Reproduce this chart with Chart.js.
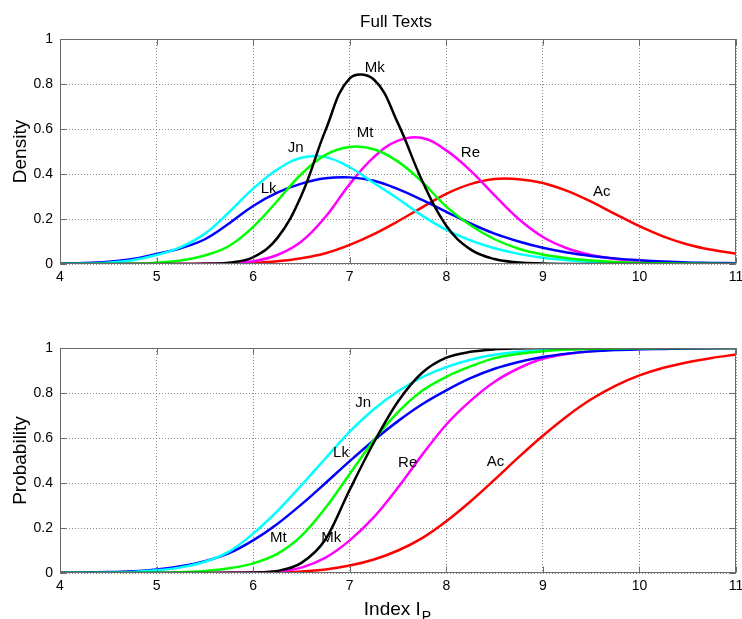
<!DOCTYPE html>
<html>
<head>
<meta charset="utf-8">
<script src="https://cdn.jsdelivr.net/npm/chart.js@4.4.1/dist/chart.umd.min.js"></script>
<style>
  html, body { margin: 0; padding: 0; background: #fff; }
  #wrap { position: relative; width: 742px; height: 619px; overflow: hidden; }
  canvas { position: absolute; left: 0; }
  #densityChart { top: 0; }
  #probChart { top: 300px; }
</style>
</head>
<body>
<div id="wrap">
  <canvas id="densityChart" width="742" height="300"></canvas>
  <canvas id="probChart" width="742" height="319"></canvas>
</div>
<script>
// Index I_P values (shared x for every curve)
const indexValues = [4, 4.25, 4.5, 4.75, 5, 5.25, 5.5, 5.75, 6, 6.25, 6.5, 6.75, 7, 7.25, 7.5, 7.75,
  8, 8.25, 8.5, 8.75, 9, 9.25, 9.5, 9.75, 10, 10.25, 10.5, 10.75, 11];
const textNames = ["Mk", "Mt", "Jn", "Lk", "Re", "Ac"];
const xTicks = [4, 5, 6, 7, 8, 9, 10, 11];
const yTicks = [0, 0.2, 0.4, 0.6, 0.8, 1];

// density curves (top panel)
const densityMk = [0, 0, 0, 0, 0, 0, 0.001, 0.006, 0.03, 0.115, 0.305, 0.595, 0.825, 0.82, 0.625, 0.37,
  0.17, 0.065, 0.022, 0.007, 0.002, 0, 0, 0, 0, 0, 0, 0, 0];
const densityMt = [0, 0, 0, 0.001, 0.006, 0.016, 0.038, 0.08, 0.165, 0.28, 0.4, 0.485, 0.52, 0.51, 0.455, 0.365,
  0.255, 0.172, 0.11, 0.068, 0.042, 0.026, 0.016, 0.009, 0.005, 0.003, 0.002, 0.001, 0];
const densityJn = [0.001, 0.002, 0.006, 0.017, 0.04, 0.075, 0.135, 0.23, 0.335, 0.42, 0.472, 0.475, 0.43, 0.36, 0.29, 0.215,
  0.152, 0.105, 0.07, 0.045, 0.028, 0.017, 0.01, 0.006, 0.003, 0.002, 0.001, 0, 0];
const densityLk = [0.002, 0.004, 0.01, 0.022, 0.045, 0.07, 0.11, 0.18, 0.258, 0.317, 0.357, 0.381, 0.385, 0.37, 0.333, 0.285,
  0.232, 0.18, 0.135, 0.1, 0.072, 0.051, 0.036, 0.025, 0.017, 0.011, 0.007, 0.005, 0.003];
const densityRe = [0, 0, 0, 0, 0, 0, 0.001, 0.003, 0.012, 0.04, 0.1, 0.21, 0.355, 0.475, 0.548, 0.56,
  0.505, 0.415, 0.305, 0.2, 0.12, 0.07, 0.04, 0.022, 0.012, 0.006, 0.003, 0.001, 0];
const densityAc = [0, 0, 0, 0, 0, 0, 0.001, 0.002, 0.005, 0.012, 0.026, 0.048, 0.085, 0.133, 0.19, 0.252,
  0.312, 0.355, 0.378, 0.377, 0.36, 0.325, 0.277, 0.222, 0.168, 0.122, 0.087, 0.063, 0.046];

// cumulative probability curves (bottom panel)
const probMk = [0, 0, 0, 0, 0, 0, 0, 0.001, 0.002, 0.009, 0.045, 0.15, 0.37, 0.58, 0.762, 0.89,
  0.957, 0.983, 0.994, 0.998, 1, 1, 1, 1, 1, 1, 1, 1, 1];
const probMt = [0, 0, 0, 0, 0.001, 0.003, 0.009, 0.021, 0.043, 0.085, 0.165, 0.29, 0.44, 0.59, 0.715, 0.81,
  0.872, 0.918, 0.955, 0.974, 0.986, 0.993, 0.996, 0.998, 0.999, 1, 1, 1, 1];
const probJn = [0.0005, 0.001, 0.002, 0.005, 0.012, 0.025, 0.05, 0.095, 0.175, 0.275, 0.39, 0.51, 0.628, 0.728, 0.808, 0.87,
  0.915, 0.948, 0.97, 0.983, 0.99, 0.994, 0.997, 0.998, 0.999, 1, 1, 1, 1];
const probLk = [0.001, 0.002, 0.004, 0.008, 0.016, 0.03, 0.052, 0.088, 0.145, 0.218, 0.305, 0.4, 0.497, 0.59, 0.675, 0.75,
  0.812, 0.866, 0.908, 0.938, 0.96, 0.975, 0.985, 0.991, 0.994, 0.996, 0.998, 0.999, 1];
const probRe = [0, 0, 0, 0, 0, 0, 0, 0.001, 0.002, 0.007, 0.024, 0.068, 0.145, 0.248, 0.38, 0.525,
  0.66, 0.765, 0.85, 0.91, 0.952, 0.973, 0.986, 0.993, 0.996, 0.998, 0.999, 1, 1];
const probAc = [0, 0, 0, 0, 0, 0, 0, 0, 0.001, 0.003, 0.007, 0.016, 0.033, 0.06, 0.1, 0.155,
  0.23, 0.318, 0.415, 0.515, 0.61, 0.697, 0.772, 0.832, 0.878, 0.912, 0.937, 0.956, 0.971];

// where the curve names sit (data coordinates)
const densityLabels = [
  { text: "Mk", x: 7.26, y: 0.873 }, { text: "Mt", x: 7.16, y: 0.584 },
  { text: "Jn", x: 6.44, y: 0.517 }, { text: "Lk", x: 6.16, y: 0.332 },
  { text: "Re", x: 8.25, y: 0.495 }, { text: "Ac", x: 9.61, y: 0.321 }
];
const probLabels = [
  { text: "Jn", x: 7.14, y: 0.757 }, { text: "Lk", x: 6.91, y: 0.532 },
  { text: "Re", x: 7.6, y: 0.488 }, { text: "Ac", x: 8.51, y: 0.494 },
  { text: "Mt", x: 6.26, y: 0.154 }, { text: "Mk", x: 6.81, y: 0.154 }
];

const lineColors = { Mk: "#000000", Mt: "#00ff00", Jn: "#00ffff", Lk: "#0000ff", Re: "#ff00ff", Ac: "#ff0000" };
const FONT = '"Liberation Sans", Arial, Helvetica, sans-serif';

// densities get a bezier so the peaks stay round, the cumulative curves stay monotone
function buildDatasets(series, monotone) {
  return textNames.map(name => ({
    label: name,
    data: indexValues.map((x, i) => ({ x: x, y: series[name][i] })),
    borderColor: lineColors[name],
    borderWidth: 2.5,
    pointRadius: 0,
    tension: 0.4,
    cubicInterpolationMode: monotone ? "monotone" : "default",
    fill: false
  }));
}

// MATLAB-like box, inward ticks, text labels and axis titles
const matlabAxes = {
  id: "matlabAxes",
  afterDatasetsDraw(chart, args, opts) {
    const { ctx, chartArea: a } = chart;
    const xs = chart.scales.x, ys = chart.scales.y;
    const L = Math.round(a.left) + 0.5, R = Math.round(a.right) - 0.5;
    const T = Math.round(a.top) + 0.5, B = Math.round(a.bottom) - 0.5;
    ctx.save();
    ctx.setLineDash([]);
    ctx.strokeStyle = "#6a6a6a";
    ctx.lineWidth = 1;
    ctx.strokeRect(L, T, R - L, B - T);
    ctx.beginPath();
    xs.ticks.forEach(t => {
      const p = Math.round(xs.getPixelForValue(t.value)) + 0.5;
      ctx.moveTo(p, B); ctx.lineTo(p, B - 6);
      ctx.moveTo(p, T); ctx.lineTo(p, T + 6);
    });
    ys.ticks.forEach(t => {
      const p = Math.round(ys.getPixelForValue(t.value)) + 0.5;
      ctx.moveTo(L, p); ctx.lineTo(L + 6, p);
      ctx.moveTo(R, p); ctx.lineTo(R - 6, p);
    });
    ctx.stroke();

    ctx.fillStyle = "#000";
    ctx.font = "15px " + FONT;
    ctx.textAlign = "center";
    ctx.textBaseline = "middle";
    (opts.labels || []).forEach(l => {
      ctx.fillText(l.text, xs.getPixelForValue(l.x), ys.getPixelForValue(l.y));
    });

    if (opts.title) {
      ctx.font = "17px " + FONT;
      ctx.fillText(opts.title, 396, 22);
    }

    // rotated y title
    ctx.save();
    ctx.translate(21, (a.top + a.bottom) / 2);
    ctx.rotate(-Math.PI / 2);
    ctx.font = "19px " + FONT;
    ctx.fillText(opts.yTitle, 0, 0);
    ctx.restore();

    if (opts.xTitle) {
      ctx.textAlign = "left";
      ctx.textBaseline = "alphabetic";
      ctx.font = "19px " + FONT;
      const main = opts.xTitle, sub = opts.xSub;
      const w1 = ctx.measureText(main).width;
      ctx.font = "14px " + FONT;
      const w2 = ctx.measureText(sub).width;
      const x0 = 397 - (w1 + w2) / 2;
      ctx.font = "19px " + FONT;
      ctx.fillText(main, x0, 315);
      ctx.font = "14px " + FONT;
      ctx.fillText(sub, x0 + w1 + 1, 321);
    }
    ctx.restore();
  }
};

function panelOptions(padTop, xHeight, decor) {
  const tickFont = { family: FONT, size: 14 };
  return {
    responsive: false,
    animation: false,
    layout: { padding: { left: 0, right: 6, top: padTop, bottom: 0 } },
    plugins: {
      legend: { display: false },
      tooltip: { enabled: false },
      matlabAxes: decor
    },
    scales: {
      x: {
        type: "linear", min: 4, max: 11,
        afterFit: s => { s.height = xHeight; s.paddingLeft = 0; s.paddingRight = 0; },
        afterBuildTicks: s => { s.ticks = xTicks.map(v => ({ value: v })); },
        ticks: { autoSkip: false, maxRotation: 0, padding: 5, color: "#000", font: tickFont,
          callback: v => String(v) },
        grid: { color: "#8a8a8a", drawTicks: false },
        border: { display: false, dash: [1, 2] }
      },
      y: {
        type: "linear", min: 0, max: 1,
        afterFit: s => { s.width = 60; s.paddingTop = 0; s.paddingBottom = 0; },
        afterBuildTicks: s => { s.ticks = yTicks.map(v => ({ value: v })); },
        ticks: { autoSkip: false, padding: 7, color: "#000", font: tickFont,
          callback: v => String(Math.round(v * 10) / 10) },
        grid: { color: "#8a8a8a", drawTicks: false },
        border: { display: false, dash: [1, 2] }
      }
    }
  };
}

new Chart(document.getElementById("densityChart"), {
  type: "line",
  data: {
    datasets: buildDatasets({ Mk: densityMk, Mt: densityMt, Jn: densityJn, Lk: densityLk, Re: densityRe, Ac: densityAc }, false)
  },
  options: panelOptions(39, 36, { labels: densityLabels, title: "Full Texts", yTitle: "Density" }),
  plugins: [matlabAxes]
});

new Chart(document.getElementById("probChart"), {
  type: "line",
  data: {
    datasets: buildDatasets({ Mk: probMk, Mt: probMt, Jn: probJn, Lk: probLk, Re: probRe, Ac: probAc }, true)
  },
  options: panelOptions(48, 46, { labels: probLabels, yTitle: "Probability", xTitle: "Index I", xSub: "P" }),
  plugins: [matlabAxes]
});
</script>
</body>
</html>
